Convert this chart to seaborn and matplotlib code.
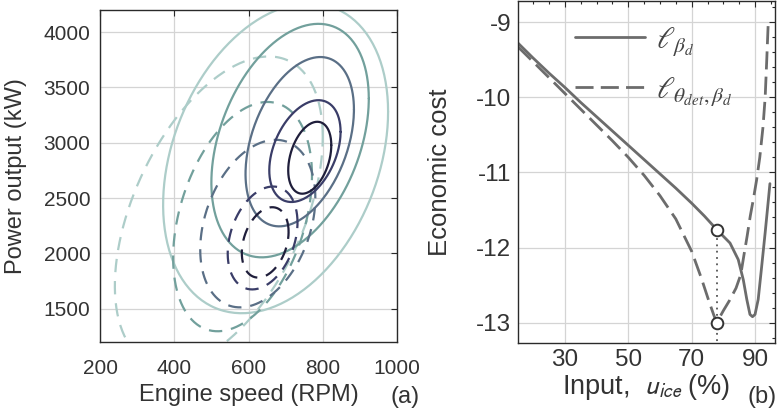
import numpy as np
import pandas as pd
import matplotlib
matplotlib.use("Agg")
import matplotlib.pyplot as plt
from matplotlib.ticker import MultipleLocator, FixedLocator
import seaborn as sns

# ---------------- (a) engine operating region, confidence ellipses ----------------
levels = [1, 2, 3, 4, 5]                       # innermost -> outermost
level_colors = ["#1f1e3b", "#3a3d68", "#5a6f86", "#72a09c", "#adcdc9"]

# nominal distribution (solid)
nom_cx = [765, 752, 738, 712, 673]
nom_cy = [2865, 2925, 3010, 3020, 2860]
nom_sx = [58, 96, 146, 212, 303]
nom_sy = [325, 460, 765, 1055, 1400]
nom_rho = [0.35, 0.38, 0.38, 0.36, 0.30]

# detuned distribution (dashed)
det_cx = [645, 638, 625, 584, 520]
det_cy = [2100, 2140, 2270, 2333, 2380]
det_sx = [63, 94, 155, 187, 280]
det_sy = [318, 465, 757, 1036, 1400]
det_rho = [0.30, 0.30, 0.31, 0.36, 0.48]

speed_ticks = [200, 400, 600, 800, 1000]
power_ticks = [1500, 2000, 2500, 3000, 3500, 4000]

# ---------------- (b) economic cost versus ICE input ----------------
u_solid = [15.2, 20, 25, 30, 35, 40, 45, 50, 55, 60, 65, 70, 74, 77.9, 80, 82.1,
           84.7, 86.3, 87.4, 88.4, 89.2, 90.0, 91.0, 92.1, 93.2, 94.2, 94.7]
cost_solid = [-9.28, -9.48, -9.68, -9.87, -10.07, -10.26, -10.45, -10.64, -10.83,
              -11.02, -11.21, -11.41, -11.58, -11.76, -11.85, -11.94, -12.16, -12.43,
              -12.69, -12.89, -12.92, -12.89, -12.69, -12.25, -11.80, -11.37, -11.15]

u_dashed = [15.2, 20, 25, 30, 35, 40, 45, 50, 55, 60, 65, 70, 73, 75.5, 77, 77.9,
            80, 82, 84, 85.5, 86.5, 87.5, 88.5, 89.5, 90.5, 91.5, 92.5, 93.2, 93.7, 94.2]
cost_dashed = [-9.33, -9.53, -9.74, -9.95, -10.16, -10.37, -10.58, -10.80, -11.04,
               -11.31, -11.62, -12.05, -12.40, -12.72, -12.90, -13.00, -12.84, -12.70,
               -12.54, -12.36, -12.10, -11.85, -11.58, -11.35, -11.10, -10.80, -10.40,
               -10.00, -9.50, -8.97]

u_optimum = 77.9
cost_optimum = [-11.76, -13.00]

input_ticks = [30, 50, 70, 90]
cost_ticks = [-13, -12, -11, -10, -9]


def ellipse(cx, cy, sx, sy, rho, n=240):
    t = np.linspace(0, 2 * np.pi, n)
    x = cx + sx * np.cos(t)
    y = cy + sy * (rho * np.cos(t) + np.sqrt(1 - rho ** 2) * np.sin(t))
    return x, y


rows = []
for kind, cx, cy, sx, sy, rho in [("nominal", nom_cx, nom_cy, nom_sx, nom_sy, nom_rho),
                                   ("detuned", det_cx, det_cy, det_sx, det_sy, det_rho)]:
    for i, lev in enumerate(levels):
        x, y = ellipse(cx[i], cy[i], sx[i], sy[i], rho[i])
        rows.append(pd.DataFrame({"speed": x, "power": y, "level": lev,
                                  "kind": kind, "curve": f"{kind}{lev}"}))
ell = pd.concat(rows, ignore_index=True)

sns.set_theme(style="white")
plt.rcParams["font.family"] = ["Liberation Sans", "DejaVu Sans"]
plt.rcParams["axes.unicode_minus"] = False

fig = plt.figure(figsize=(7.81, 4.16), dpi=100)
ax1 = fig.add_axes([100 / 781, 1 - 342 / 416, 297 / 781, 332 / 416])
ax2 = fig.add_axes([518 / 781, 1 - 343 / 416, 257 / 781, 342 / 416])

grid_kw = dict(color="#d4d4d4", linewidth=0.9)
spine_c = "#2a2a2a"
text_c = "#333333"

# ---- panel (a)
sns.lineplot(data=ell, x="speed", y="power", hue="level", style="kind",
             units="curve", estimator=None, sort=False,
             hue_order=levels[::-1], style_order=["nominal", "detuned"],
             palette=dict(zip(levels, level_colors)),
             dashes={"nominal": "", "detuned": (6, 4)},
             linewidth=1.6, legend=False, ax=ax1)
ax1.set_xlim(200, 1000)
ax1.set_ylim(1200, 4200)
ax1.xaxis.set_major_locator(FixedLocator(speed_ticks))
ax1.yaxis.set_major_locator(FixedLocator(power_ticks))
ax1.grid(True, **grid_kw)
ax1.set_axisbelow(True)
ax1.tick_params(direction="in", top=True, right=True, length=4, width=0.8,
                color=spine_c, labelsize=15, labelcolor=text_c)
ax1.tick_params(axis="x", pad=12)
ax1.tick_params(axis="y", pad=7)
ax1.set_xlabel("Engine speed (RPM)", fontsize=17, color=text_c)
ax1.set_ylabel("Power output (kW)", fontsize=17, color=text_c)
ax1.xaxis.set_label_coords(0.5, -0.125)
ax1.yaxis.set_label_coords(-0.245, 0.5)
for s in ax1.spines.values():
    s.set_color(spine_c)
    s.set_linewidth(1.0)
fig.text(420 / 781, 1 - 397 / 416, "(a)", fontsize=17, color=text_c,
         ha="right", va="center")

# ---- panel (b)
line_c = "#6c6c6c"
sns.lineplot(x=u_solid, y=cost_solid, sort=False, estimator=None, color=line_c,
             linewidth=2.0, ax=ax2, label=r"$\ell_{\beta_d}$")
sns.lineplot(x=u_dashed, y=cost_dashed, sort=False, estimator=None, color=line_c,
             linewidth=2.0, linestyle=(0, (6.5, 2.6)), ax=ax2,
             label=r"$\ell_{\theta_{det},\beta_d}$")
ax2.vlines(u_optimum, -13.5, cost_optimum[0], colors="#555555",
           linestyles=(0, (1, 2.5)), linewidth=1.3, zorder=3)
sns.scatterplot(x=[u_optimum] * 2, y=cost_optimum, marker="o", s=70,
                facecolor="white", edgecolor="#333333", linewidth=1.4,
                zorder=5, ax=ax2, legend=False)
ax2.set_xlim(15.2, 96.3)
ax2.set_ylim(-13.27, -8.72)
ax2.xaxis.set_major_locator(FixedLocator(input_ticks))
ax2.yaxis.set_major_locator(FixedLocator(cost_ticks))
ax2.xaxis.set_minor_locator(MultipleLocator(5))
ax2.yaxis.set_minor_locator(MultipleLocator(0.2))
ax2.grid(True, which="major", **grid_kw)
ax2.set_axisbelow(True)
ax2.tick_params(which="both", direction="in", top=True, right=True,
                color=spine_c, width=0.8)
ax2.tick_params(which="major", length=4, labelsize=17.5, labelcolor=text_c)
ax2.tick_params(which="minor", length=2.5)
ax2.tick_params(axis="x", pad=4)
ax2.tick_params(axis="y", pad=5)
ax2.set_xlabel("Input,  $u_{ice}$ (%)", fontsize=19.5, color=text_c,
               math_fontfamily="stixsans")
ax2.set_ylabel("Economic cost", fontsize=18.5, color=text_c)
ax2.xaxis.set_label_coords(0.5, -0.085)
ax2.yaxis.set_label_coords(-0.255, 0.5)
for s in ax2.spines.values():
    s.set_color(spine_c)
    s.set_linewidth(1.0)
leg = ax2.legend(loc="upper left", bbox_to_anchor=(0.22, 0.93), frameon=False,
                 fontsize=22, handlelength=2.3, handletextpad=0.35,
                 labelspacing=0.55, borderaxespad=0, borderpad=0)
for t in leg.get_texts():
    t.set_math_fontfamily("stix")
    t.set_color("#444444")
fig.text(777 / 781, 1 - 397 / 416, "(b)", fontsize=17, color=text_c,
         ha="right", va="center")

fig.savefig("out.png", dpi=100)
